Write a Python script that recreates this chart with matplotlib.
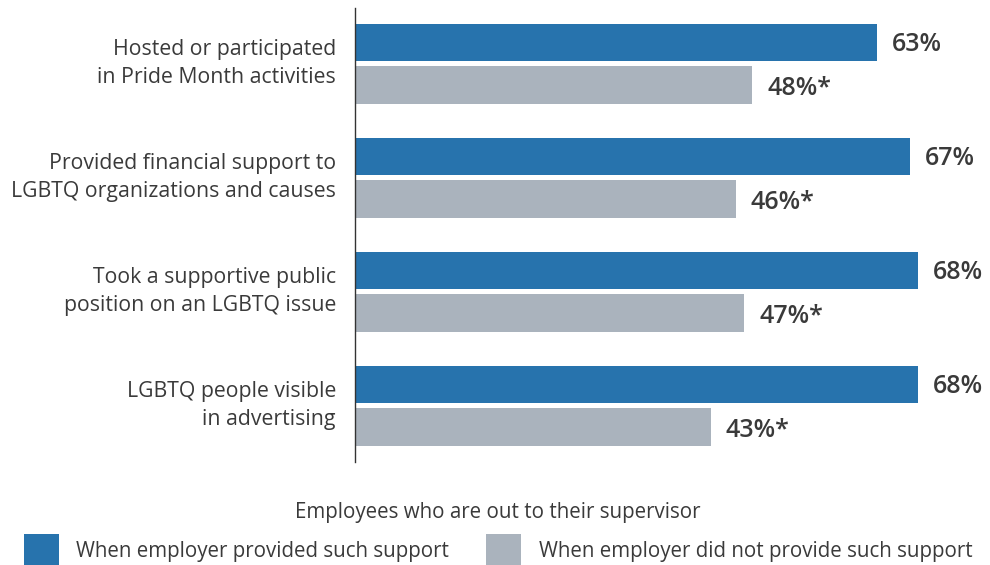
import numpy as np
from matplotlib import pyplot as plt
from matplotlib import font_manager

plt.rcParams["font.family"] = ["Open Sans", "DejaVu Sans"]

categories = [
    "Hosted or participated\nin Pride Month activities",
    "Provided financial support to\nLGBTQ organizations and causes",
    "Took a supportive public\nposition on an LGBTQ issue",
    "LGBTQ people visible\nin advertising",
]
with_support = [63, 67, 68, 68]
without_support = [48, 46, 47, 43]
without_marks = ["*", "*", "*", "*"]

series_names = [
    "When employer provided such support",
    "When employer did not provide such support",
]
legend_title = "Employees who are out to their supervisor"

blue = "#2773ad"
gray = "#aab3bd"
text_color = "#3a3a3a"

# semibold Open Sans for value labels, skipping condensed files
value_file = None
for f in font_manager.fontManager.ttflist:
    if f.name == "Open Sans" and f.weight in (600, "semibold", "demibold") and "ondensed" not in f.fname:
        value_file = f.fname
        break
if value_file:
    value_prop = font_manager.FontProperties(fname=value_file, size=18)
else:
    value_prop = font_manager.FontProperties(family="Open Sans", weight="semibold", size=18)

fig = plt.figure(figsize=(9.9, 5.65), dpi=100)
ax = fig.add_axes([0.3586, 0.1823, 0.6356, 0.8035])

y = np.arange(len(categories))
offset = 0.186
height = 0.325

bars_a = ax.barh(y - offset, with_support, height=height, color=blue, label=series_names[0])
bars_b = ax.barh(y + offset, without_support, height=height, color=gray, label=series_names[1])

for rect, v in zip(bars_a, with_support):
    ax.text(rect.get_width() + 1.8, rect.get_y() + rect.get_height() / 2 + 0.02, f"{v}%",
            va="center", ha="left", fontproperties=value_prop, color=text_color)
for rect, v, m in zip(bars_b, without_support, without_marks):
    ax.text(rect.get_width() + 1.8, rect.get_y() + rect.get_height() / 2 + 0.03, f"{v}%{m}",
            va="center", ha="left", fontproperties=value_prop, color=text_color)

for i, cat in enumerate(categories):
    ax.text(-2.3, i, cat, ha="right", va="center", fontsize=15.3, color=text_color,
            linespacing=1.45)

ax.set_xlim(0, 76)
ax.set_ylim(3.493, -0.489)
ax.set_xticks([])
ax.set_yticks([])
for side in ["top", "right", "bottom"]:
    ax.spines[side].set_visible(False)
ax.spines["left"].set_color("#333333")
ax.spines["left"].set_linewidth(1.0)

leg = fig.legend(
    handles=[bars_a, bars_b],
    labels=series_names,
    loc="lower center",
    bbox_to_anchor=(0.503, -0.03),
    ncol=2,
    title=legend_title,
    fontsize=14.8,
    title_fontsize=14.8,
    frameon=False,
    handlelength=1.7,
    handleheight=2.1,
    handletextpad=0.85,
    columnspacing=1.8,
    borderaxespad=0.3,
)
leg._legend_box.sep = 8
for t in leg.get_texts():
    t.set_color(text_color)
leg.get_title().set_color(text_color)

fig.savefig("out.png", dpi=100)
